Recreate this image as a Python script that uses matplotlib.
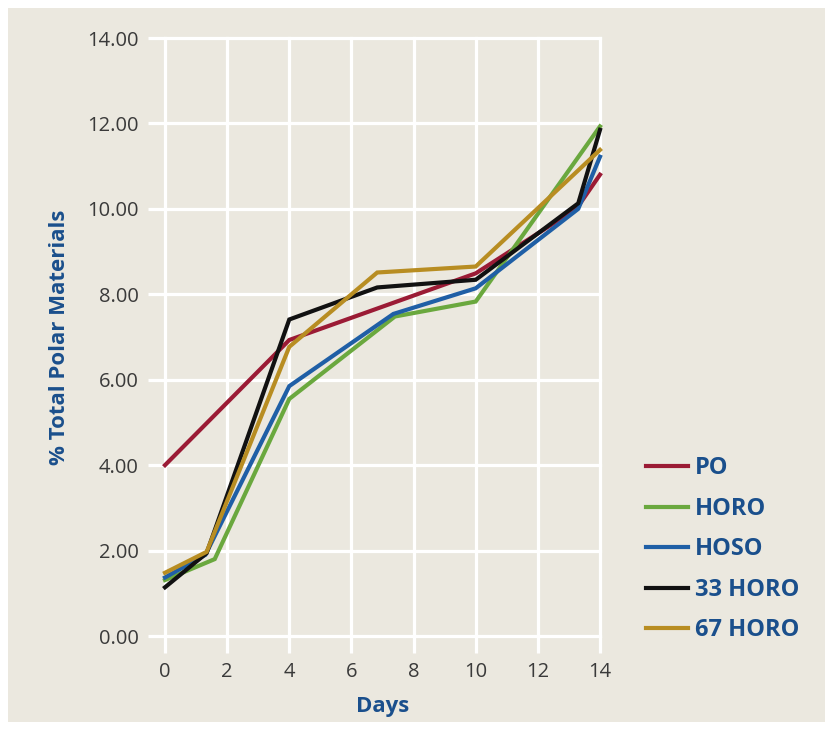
import matplotlib
matplotlib.use("Agg")
import matplotlib.pyplot as plt
from matplotlib.patches import Rectangle

# data
days_po = [0, 4, 10, 13.25, 14]
po = [4.0, 6.93, 8.49, 10.01, 10.8]

days_horo = [0, 1.6, 4, 7.4, 10, 14]
horo = [1.31, 1.80, 5.55, 7.48, 7.83, 11.93]

days_hoso = [0, 1.3, 4, 7.35, 10, 13.3, 14]
hoso = [1.37, 1.90, 5.85, 7.54, 8.14, 10.0, 11.22]

days_33 = [0, 1.34, 4, 6.83, 10, 13.3, 14]
horo33 = [1.14, 1.94, 7.41, 8.16, 8.34, 10.13, 11.85]

days_67 = [0, 1.34, 4, 6.83, 10, 14]
horo67 = [1.48, 1.97, 6.77, 8.51, 8.65, 11.38]

series = [
    ("PO", days_po, po, "#9b1b35"),
    ("HORO", days_horo, horo, "#6aa83e"),
    ("HOSO", days_hoso, hoso, "#1f5fa6"),
    ("33 HORO", days_33, horo33, "#111111"),
    ("67 HORO", days_67, horo67, "#b88d22"),
]

x_ticks = [0, 2, 4, 6, 8, 10, 12, 14]
y_ticks = [0, 2, 4, 6, 8, 10, 12, 14]

BG = "#ebe8df"
BLUE = "#1a4f8c"
plt.rcParams["font.family"] = ["Open Sans", "DejaVu Sans"]

fig = plt.figure(figsize=(8.33, 7.30), dpi=100)
fig.patch.set_facecolor("white")
fig.patches.append(Rectangle((8 / 833, 8 / 730), 817 / 833, 714 / 730,
                             transform=fig.transFigure, facecolor=BG,
                             edgecolor="none", zorder=-10))

ax = fig.add_axes([165 / 833, 1 - 636 / 730, 435 / 833, 598 / 730])
ax.set_facecolor(BG)
ax.set_xlim(0, 14)
ax.set_ylim(0, 14)
for s in ax.spines.values():
    s.set_visible(False)

for t in x_ticks:
    ax.axvline(t, color="white", lw=2.3, clip_on=False, zorder=0)
for t in y_ticks:
    ax.axhline(t, color="white", lw=2.3, clip_on=False, zorder=0)

ax.set_xticks(x_ticks)
ax.set_yticks(y_ticks)
ax.set_yticklabels(["%.2f" % v for v in y_ticks])
ax.tick_params(axis="both", direction="out", length=12, width=2.3,
               color="white", labelsize=14.5, labelcolor="#3a3a3a", pad=7)

for name, xs, ys, c in series:
    ax.plot(xs, ys, color=c, lw=3, label=name, solid_joinstyle="miter",
            clip_on=False)

ax.set_xlabel("Days", fontsize=16, fontweight="bold", color=BLUE, labelpad=10)
ax.set_ylabel("% Total Polar Materials", fontsize=16, fontweight="bold",
              color=BLUE, labelpad=12)

leg = ax.legend(loc="upper left", bbox_to_anchor=(625 / 833, 1 - 435 / 730),
                bbox_transform=fig.transFigure, frameon=False,
                handlelength=1.75, handletextpad=0.3, labelspacing=0.7,
                prop={"size": 17, "weight": "bold"}, labelcolor=BLUE)

fig.savefig("out.png", dpi=100, facecolor=fig.get_facecolor())
